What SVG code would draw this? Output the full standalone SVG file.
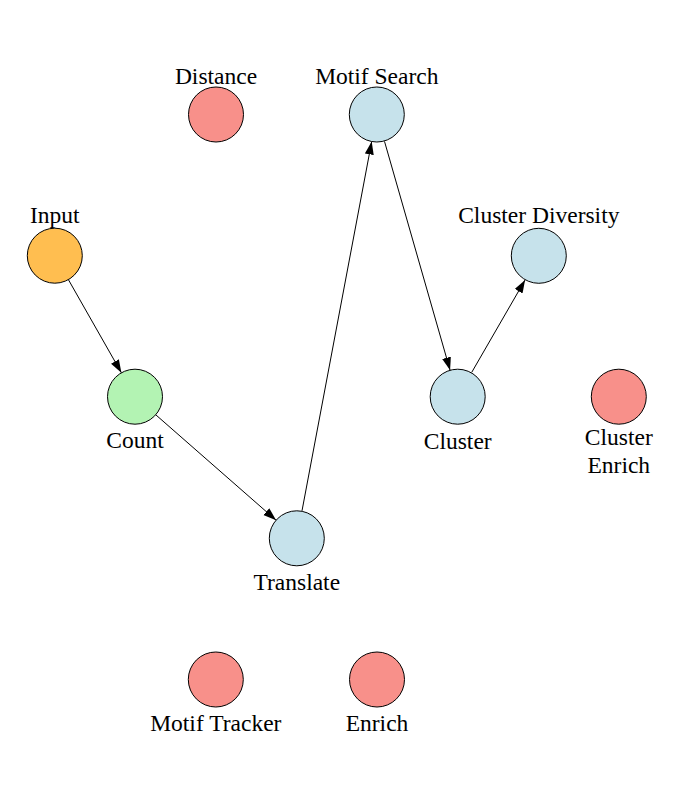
<svg xmlns="http://www.w3.org/2000/svg" width="675" height="796" viewBox="0 0 675 796">
<style>
  .n { stroke: #000; stroke-width: 1; }
  .start { fill: #ffbe50; }
  .count { fill: #b3f3b3; }
  .blue { fill: #c6e2eb; }
  .red { fill: #f8908a; }
  text { font-family: "Liberation Serif", "Times New Roman", serif; font-size: 23.5px; fill: #000; text-anchor: middle; }
  .e { stroke: #000; stroke-width: 1; fill: none; marker-end: url(#arr); }
</style>
<defs>
  <marker id="arr" markerUnits="userSpaceOnUse" markerWidth="14" markerHeight="10" refX="13" refY="4.5" orient="auto">
    <path d="M0,0 L13,4.5 L0,9 z" fill="#000"/>
  </marker>
</defs>
<rect width="675" height="796" fill="#fff"/>
<g id="connectors">
  <line class="e" x1="68.6" y1="280" x2="121.4" y2="372.8"/>
  <line class="e" x1="156" y1="415" x2="276.1" y2="520.2"/>
  <line class="e" x1="302" y1="510.8" x2="371.7" y2="141.5"/>
  <line class="e" x1="384.5" y1="141.4" x2="450.1" y2="370.3"/>
  <line class="e" x1="471.7" y1="372.4" x2="525.1" y2="279.9"/>
</g>
<g id="input"><circle class="n start" cx="54.8" cy="255.7" r="27.5"/><text x="54.8" y="223">Input</text></g>
<g id="count"><circle class="n count" cx="135" cy="396.7" r="27.5"/><text x="135" y="448">Count</text></g>
<g id="translate"><circle class="n blue" cx="296.8" cy="538.3" r="27.5"/><text x="296.8" y="590">Translate</text></g>
<g id="motif-search"><circle class="n blue" cx="376.8" cy="114.5" r="27.5"/><text x="376.8" y="84">Motif Search</text></g>
<g id="distance"><circle class="n red" cx="216" cy="114.5" r="27.5"/><text x="216" y="84">Distance</text></g>
<g id="cluster-diversity"><circle class="n blue" cx="538.8" cy="255.8" r="27.5"/><text x="538.8" y="223">Cluster Diversity</text></g>
<g id="cluster"><circle class="n blue" cx="457.7" cy="396.7" r="27.5"/><text x="457.7" y="449">Cluster</text></g>
<g id="cluster-enrich"><circle class="n red" cx="618.8" cy="396.7" r="27.5"/><text x="618.8" y="445">Cluster</text><text x="618.8" y="473">Enrich</text></g>
<g id="motif-tracker"><circle class="n red" cx="215.8" cy="679.5" r="27.5"/><text x="215.8" y="731">Motif Tracker</text></g>
<g id="enrich"><circle class="n red" cx="377" cy="679.5" r="27.5"/><text x="377" y="731">Enrich</text></g>
</svg>
